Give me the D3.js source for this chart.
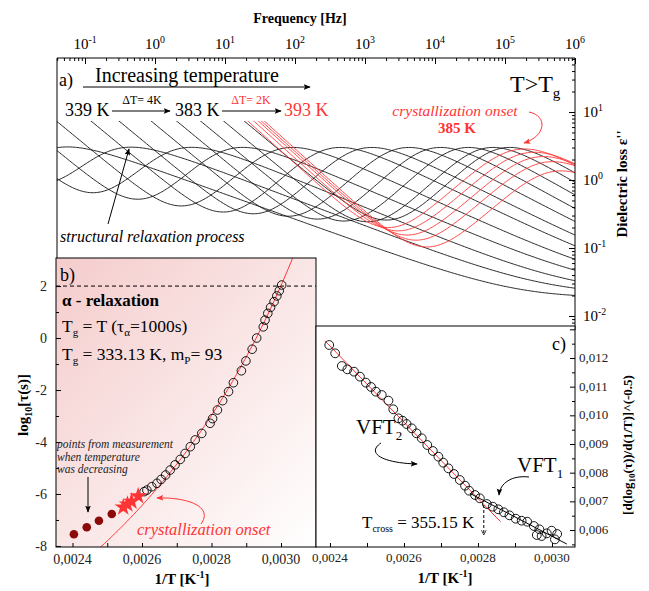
<!DOCTYPE html>
<html><head><meta charset="utf-8">
<script src="https://cdn.jsdelivr.net/npm/d3@7/dist/d3.min.js"></script>
<style>
body{margin:0;background:#fff;}
text, tspan{font-family:'Liberation Serif',serif !important;}
</style></head><body>
<svg id="chart" width="649" height="591"></svg>
<script>
// ---------- data ----------
// dielectric loss spectra: temperatures and per-spectrum parameters
const blackT        = [339,343,347,351,355,359,363,367,371,375,379,383];
const blackPeakLogF = [-1.23,-0.33,0.53,1.26,1.97,2.65,3.10,3.63,4.08,4.48,4.83,5.07];
const blackPeakLoss = [3.0,3.0,3.0,3.0,3.0,3.0,3.0,3.0,3.0,3.0,3.0,3.0];
const blackWing     = [0.37,0.39,0.42,0.44,0.47,0.50,0.52,0.55,0.58,0.60,0.62,0.62];
const blackDcLog    = [-2.24,-1.70,-1.21,-0.76,-0.33,0.09,0.43,0.82,1.13,1.42,1.70,1.95];
const redT          = [385,387,389,391,393];
const redPeakLogF   = [5.28,5.42,5.55,5.68,5.80];
const redPeakLoss   = [2.85,2.55,2.20,1.85,1.35];
const redWing       = [0.62,0.62,0.62,0.62,0.62];
const redDcLog      = [2.10,2.18,2.24,2.28,2.32];
const blackDcSlope = 0.85, redDcSlope = 0.93;
const betaPeakLogF = 7.3, betaPeakLoss = 0.015;
const freqTicks = [-1,0,1,2,3,4,5,6];
const lossTicks = [1,0,-1,-2];

// relaxation map (panel b)
const tauInvT = [0.003002,0.002995,0.002988,0.002980,0.002970,0.002962,0.002954,0.002949,0.002930,0.002917,0.002899,0.002886,0.002863,0.002849,0.002832,0.002817,0.002803,0.002796,0.002772,0.002753,0.002739,0.002724,0.002710,0.002695,0.002681,0.002668,0.002655,0.002643,0.002628,0.002614,0.002606];
const tauLog  = [2.04,1.82,1.62,1.40,1.18,0.95,0.69,0.43,0.00,-0.43,-0.88,-1.26,-1.72,-2.06,-2.41,-2.77,-3.10,-3.28,-3.67,-3.92,-4.18,-4.44,-4.67,-4.88,-5.08,-5.27,-5.44,-5.59,-5.72,-5.85,-5.91];
const starInvT = [0.002546,0.002558,0.002570,0.002589];
const starLog  = [-6.51,-6.40,-6.29,-6.08];
const coolInvT = [0.002404,0.002441,0.002476,0.002513];
const coolLog  = [-7.55,-7.28,-7.03,-6.77];
const vft = {A:-19.2, B:1641, T0:256};
const bYTicks = [-8,-6,-4,-2,0,2];
const bXTicks = [0.0024,0.0026,0.0028,0.0030];

// derivative analysis (panel c)
const derInvT = [0.002398,0.002414,0.002432,0.002447,0.002465,0.002481,0.002497,0.002511,0.002524,0.002540,0.002558,0.002571,0.002585,0.002596,0.002607,0.002621,0.002634,0.002648,0.002663,0.002678,0.002693,0.002706,0.002720,0.002735,0.002751,0.002765,0.002776,0.002792,0.002805,0.002824,0.002840,0.002855,0.002870,0.002885,0.002902,0.002918,0.002933,0.002951,0.002966,0.002959,0.002972,0.002986,0.002999,0.003014,0.003008];
const derVal  = [0.012453,0.012163,0.011721,0.011605,0.011523,0.011349,0.011140,0.010990,0.010826,0.010709,0.010512,0.010210,0.009896,0.009814,0.009698,0.009547,0.009373,0.009199,0.008965,0.008756,0.008558,0.008349,0.008152,0.007954,0.007745,0.007546,0.007372,0.007221,0.007106,0.006908,0.006814,0.006723,0.006618,0.006513,0.006395,0.006325,0.006290,0.006140,0.006025,0.005826,0.005791,0.005884,0.005977,0.005861,0.005675];
const vft2Line = {x:[0.002386,0.002861], y:[0.012603,0.006290]};
const vft1Line = {x:[0.002778,0.003040], y:[0.007281,0.005512]};
const cYTicks = [0.006,0.007,0.008,0.009,0.010,0.011,0.012];
const cXTicks = [0.0024,0.0026,0.0028,0.0030];
const Tcross = 355.15;

// ---------- layout ----------
const svg = d3.select('#chart');
const A = {l:57, r:575, t:58, b:330};
const B = {l:56, r:316, t:258, b:547};
const C = {l:316, r:575, t:326, b:547};
const RED = '#ff3535';
const fmt = v => d3.format('.4f')(v).replace('.', ',');
const fmt3 = v => d3.format('.3f')(v).replace('.', ',');

const defs = svg.append('defs');
function marker(id, color, size){
  defs.append('marker').attr('id', id).attr('viewBox','0 0 10 10').attr('refX',9).attr('refY',5)
    .attr('markerWidth', size).attr('markerHeight', size).attr('orient','auto')
    .append('path').attr('d','M0,1 L10,5 L0,9 L2,5 Z').attr('fill', color);
}
marker('arrK','#000',7); marker('arrR',RED,7);
defs.append('marker').attr('id','arrOpen').attr('viewBox','0 0 10 10').attr('refX',9).attr('refY',5)
  .attr('markerWidth',6).attr('markerHeight',6).attr('orient','auto')
  .append('path').attr('d','M1,1 L9,5 L1,9').attr('fill','none').attr('stroke','#000').attr('stroke-width',1.2);
const grad = defs.append('linearGradient').attr('id','pink').attr('x1',0).attr('y1',0).attr('x2',1).attr('y2',1);
grad.append('stop').attr('offset',0).attr('stop-color','#f5cccc');
grad.append('stop').attr('offset',1).attr('stop-color','#ffffff');
defs.append('clipPath').attr('id','clipA').append('rect').attr('x',A.l).attr('y',121).attr('width',A.r-A.l).attr('height',A.b-121);
defs.append('clipPath').attr('id','clipB').append('rect').attr('x',B.l).attr('y',B.t).attr('width',B.r-B.l).attr('height',B.b-B.t);
defs.append('clipPath').attr('id','clipC').append('rect').attr('x',C.l).attr('y',C.t).attr('width',C.r-C.l).attr('height',C.b-C.t);

function powLabel(g, x, y, base, exp, size, anchor){
  const t = g.append('text').attr('x',x).attr('y',y).attr('font-size',size).attr('text-anchor',anchor||'middle');
  t.append('tspan').text(base);
  t.append('tspan').attr('dy',-size*0.42).attr('font-size',size*0.66).text(exp);
  return t;
}

// ---------- panel a: loss spectra ----------
const xF = d3.scaleLog().domain([Math.pow(10,-1.4),1e6]).range([A.l,A.r]);
const yE = d3.scaleLog().domain([Math.pow(10,-2.206),Math.pow(10,1.794)]).range([A.b,A.t]);

function hnShape(w,a,b){
  const wa = Math.pow(w,a);
  const re = 1 + wa*Math.cos(a*Math.PI/2), im = wa*Math.sin(a*Math.PI/2);
  return Math.pow(Math.hypot(re,im),-b)*Math.sin(b*Math.atan2(im,re));
}
function peakLoss(logf, logPeak, height, a, ab){
  const b = ab/a;
  const wm = Math.pow(Math.sin(a*Math.PI/(2*(b+1)))/Math.sin(a*b*Math.PI/(2*(b+1))),1/a);
  const w = wm*Math.pow(10,logf-logPeak);
  return height*hnShape(w,a,b)/hnShape(wm,a,b);
}
function spectrum(logPeak, height, wing, dcLog, dcSlope, lfSlope){
  return d3.range(-1.46, 6.06, 0.02).map(lf => {
    const v = Math.pow(10, dcLog - dcSlope*lf)
      + peakLoss(lf, logPeak, height, lfSlope, wing)
      + peakLoss(lf, betaPeakLogF, betaPeakLoss, 0.35, 0.35);
    return [Math.pow(10,lf), v];
  });
}
const lineA = d3.line().x(d=>xF(d[0])).y(d=>yE(d[1]));
const gA = svg.append('g');
const gCurves = gA.append('g').attr('clip-path','url(#clipA)');
blackT.forEach((T,i)=>{
  gCurves.append('path').attr('d', lineA(spectrum(blackPeakLogF[i],blackPeakLoss[i],blackWing[i],blackDcLog[i],blackDcSlope,1.0)))
    .attr('fill','none').attr('stroke','#111').attr('stroke-width',0.9);
});
redT.forEach((T,i)=>{
  gCurves.append('path').attr('d', lineA(spectrum(redPeakLogF[i],redPeakLoss[i],redWing[i],redDcLog[i],redDcSlope,0.95)))
    .attr('fill','none').attr('stroke',RED).attr('stroke-width',0.9);
});
// frame a
gA.append('path').attr('d',`M${A.l},${A.b}V${A.t}H${A.r}V${A.b}`).attr('fill','none').attr('stroke','#000').attr('stroke-width',1);
// top frequency axis
const topAxis = d3.axisTop(xF).tickFormat('').tickSizeOuter(0)
  .tickValues(d3.range(-2,7).flatMap(k=>d3.range(1,10).map(m=>m*Math.pow(10,k))).filter(v=>v>=xF.domain()[0]&&v<=1e6));
const gTop = gA.append('g').attr('transform',`translate(0,${A.t})`).call(topAxis);
gTop.select('.domain').remove();
gTop.selectAll('.tick line').attr('y2', d => Math.abs(Math.log10(d)-Math.round(Math.log10(d)))<1e-6 ? 6 : 3).attr('stroke','#000');
freqTicks.forEach(k=>powLabel(gA, xF(Math.pow(10,k)), 49, '10', String(k), 15));
gA.append('text').attr('x',300).attr('y',23).attr('text-anchor','middle').attr('font-size',14).attr('font-weight','bold').text('Frequency [Hz]');
// right loss axis
const rightAxis = d3.axisRight(yE).tickFormat('').tickSizeOuter(0)
  .tickValues(d3.range(-3,2).flatMap(k=>d3.range(1,10).map(m=>m*Math.pow(10,k))).filter(v=>v>=yE.domain()[0]&&v<=yE.domain()[1]));
const gRight = gA.append('g').attr('transform',`translate(${A.r},0)`).call(rightAxis);
gRight.select('.domain').remove();
gRight.selectAll('.tick line').attr('x2', d => Math.abs(Math.log10(d)-Math.round(Math.log10(d)))<1e-6 ? -6 : -3).attr('stroke','#000');
lossTicks.forEach(k=>powLabel(gA, 583, yE(Math.pow(10,k))+5, '10', String(k), 15, 'start'));
gA.append('text').attr('transform','translate(627,184) rotate(-90)').attr('text-anchor','middle')
  .attr('font-size',15).attr('font-weight','bold').text('Dielectric loss ε\'\'');

// annotations a
gA.append('text').attr('x',59).attr('y',86).attr('font-size',18).text('a)');
gA.append('text').attr('x',95).attr('y',82).attr('font-size',20).text('Increasing temperature');
gA.append('line').attr('x1',83).attr('x2',310).attr('y1',87).attr('y2',87).attr('stroke','#000').attr('marker-end','url(#arrK)');
gA.append('text').attr('x',65).attr('y',116).attr('font-size',18).text('339 K');
gA.append('line').attr('x1',112).attr('x2',170).attr('y1',111).attr('y2',111).attr('stroke','#000').attr('marker-end','url(#arrK)');
gA.append('text').attr('x',142).attr('y',104).attr('font-size',12).attr('text-anchor','middle').text('ΔT= 4K');
gA.append('text').attr('x',175).attr('y',116).attr('font-size',18).text('383 K');
gA.append('line').attr('x1',222).attr('x2',281).attr('y1',111).attr('y2',111).attr('stroke','#000').attr('marker-end','url(#arrK)');
gA.append('text').attr('x',251).attr('y',104).attr('font-size',12).attr('text-anchor','middle').attr('fill',RED).text('ΔT= 2K');
gA.append('text').attr('x',284).attr('y',116).attr('font-size',18).attr('fill',RED).text('393 K');
const tg = gA.append('text').attr('x',510).attr('y',92).attr('font-size',24);
tg.append('tspan').text('T>T');
tg.append('tspan').attr('dy',6).attr('font-size',15).text('g');
gA.append('text').attr('x',455).attr('y',116).attr('text-anchor','middle').attr('font-size',15.5).attr('font-style','italic').attr('fill',RED).text('crystallization onset');
gA.append('text').attr('x',457).attr('y',133).attr('text-anchor','middle').attr('font-size',15).attr('font-weight','bold').attr('fill',RED).text('385 K');
gA.append('path').attr('d','M529,112 C548,116 546,136 524,143').attr('fill','none').attr('stroke',RED).attr('stroke-width',1).attr('marker-end','url(#arrR)');
gA.append('text').attr('x',60).attr('y',242).attr('font-size',16).attr('font-style','italic').text('structural relaxation process');
gA.append('line').attr('x1',108).attr('y1',224).attr('x2',129).attr('y2',149).attr('stroke','#000').attr('marker-end','url(#arrK)');

// ---------- panel b: relaxation map ----------
const xB = d3.scaleLinear().domain([0.0023525,0.0031007]).range([B.l,B.r]);
const yB = d3.scaleLinear().domain([-8.04,3.08]).range([B.b,B.t]);
const gB = svg.append('g');
gB.append('rect').attr('x',B.l).attr('y',B.t).attr('width',B.r-B.l).attr('height',B.b-B.t).attr('fill','url(#pink)');
gB.append('line').attr('x1',B.l).attr('x2',B.r).attr('y1',yB(2)).attr('y2',yB(2)).attr('stroke','#000').attr('stroke-dasharray','4,3');
const vftPts = d3.range(0.00240,0.003070,0.000004).map(v=>[v, vft.A + vft.B/(1/v - vft.T0)]);
gB.append('g').attr('clip-path','url(#clipB)').append('path')
  .attr('d', d3.line().x(d=>xB(d[0])).y(d=>yB(d[1]))(vftPts)).attr('fill','none').attr('stroke',RED).attr('stroke-width',1);
gB.selectAll('circle.tau').data(tauInvT).join('circle').attr('class','tau')
  .attr('cx',d=>xB(d)).attr('cy',(d,i)=>yB(tauLog[i])).attr('r',4.3).attr('fill','none').attr('stroke','#000').attr('stroke-width',0.9);
const star = d3.symbol().type(d3.symbolStar).size(95);
gB.selectAll('path.star').data(starInvT).join('path').attr('class','star')
  .attr('transform',(d,i)=>`translate(${xB(d)},${yB(starLog[i])})`).attr('d',star()).attr('fill',RED);
gB.selectAll('circle.cool').data(coolInvT).join('circle').attr('class','cool')
  .attr('cx',d=>xB(d)).attr('cy',(d,i)=>yB(coolLog[i])).attr('r',4.3).attr('fill','#8b0a0a');
gB.append('rect').attr('x',B.l).attr('y',B.t).attr('width',B.r-B.l).attr('height',B.b-B.t).attr('fill','none').attr('stroke','#000');
// axes b
const gBy = gB.append('g').attr('transform',`translate(${B.l},0)`)
  .call(d3.axisRight(yB).tickValues(d3.range(-8,3,1)).tickSize(4).tickFormat(''));
gBy.select('.domain').remove(); gBy.selectAll('.tick line').attr('x2',d=>d%2===0?5:3);
bYTicks.forEach(v=>gB.append('text').attr('x',47).attr('y',yB(v)+5).attr('text-anchor','end').attr('font-size',14).attr('fill','#222').text(v));
const gBx = gB.append('g').attr('transform',`translate(0,${B.b})`)
  .call(d3.axisTop(xB).tickValues(d3.range(0.0024,0.00305,0.0001)).tickSize(4).tickFormat(''));
gBx.select('.domain').remove();
bXTicks.forEach(v=>gB.append('text').attr('x',xB(v)).attr('y',564).attr('text-anchor','middle').attr('font-size',14).attr('fill','#222').text(fmt(v)));
const bxl = gB.append('text').attr('x',182).attr('y',584).attr('text-anchor','middle').attr('font-size',15).attr('font-weight','bold');
bxl.append('tspan').text('1/T [K');
bxl.append('tspan').attr('dy',-6).attr('font-size',10).text('-1');
bxl.append('tspan').attr('dy',6).text(']');
const byl = gB.append('text').attr('transform','translate(28,405) rotate(-90)').attr('text-anchor','middle').attr('font-size',15).attr('font-weight','bold');
byl.append('tspan').text('log');
byl.append('tspan').attr('dy',4).attr('font-size',10).text('10');
byl.append('tspan').attr('dy',-4).text('[τ(s)]');
// annotations b
gB.append('text').attr('x',60).attr('y',281).attr('font-size',18).text('b)');
gB.append('text').attr('x',62).attr('y',306).attr('font-size',17).attr('font-weight','bold').text('α - relaxation');
const t1 = gB.append('text').attr('x',62).attr('y',332).attr('font-size',17.5);
t1.append('tspan').text('T'); t1.append('tspan').attr('dy',4).attr('font-size',11).text('g');
t1.append('tspan').attr('dy',-4).text(' = T (τ'); t1.append('tspan').attr('dy',4).attr('font-size',11).text('α');
t1.append('tspan').attr('dy',-4).text('=1000s)');
const t2 = gB.append('text').attr('x',62).attr('y',360).attr('font-size',17.5);
t2.append('tspan').text('T'); t2.append('tspan').attr('dy',4).attr('font-size',11).text('g');
t2.append('tspan').attr('dy',-4).text(' = 333.13 K, m'); t2.append('tspan').attr('dy',4).attr('font-size',11).text('P');
t2.append('tspan').attr('dy',-4).text('= 93');
['points from measurement','when temperature','was decreasing'].forEach((s,i)=>
  gB.append('text').attr('x',57).attr('y',448+i*12.5).attr('font-size',11.5).attr('font-style','italic').attr('fill','#222').text(s));
gB.append('line').attr('x1',88).attr('y1',477).attr('x2',88).attr('y2',512).attr('stroke','#000').attr('marker-end','url(#arrK)');
gB.append('text').attr('x',137).attr('y',535).attr('font-size',16.5).attr('font-style','italic').attr('fill',RED).text('crystallization onset');
gB.append('path').attr('d','M201,524 C214,506 186,497 157,498').attr('fill','none').attr('stroke',RED).attr('marker-end','url(#arrR)');

// ---------- panel c: derivative analysis ----------
const xC = d3.scaleLinear().domain([0.0023622,0.0030622]).range([C.l,C.r]);
const yC = d3.scaleLinear().domain([0.005408,0.013116]).range([C.b,C.t]);
const gC = svg.append('g');
gC.append('rect').attr('x',C.l).attr('y',C.t).attr('width',C.r-C.l).attr('height',C.b-C.t).attr('fill','#fff');
const gCc = gC.append('g').attr('clip-path','url(#clipC)');
gCc.append('line').attr('x1',xC(vft2Line.x[0])).attr('y1',yC(vft2Line.y[0])).attr('x2',xC(vft2Line.x[1])).attr('y2',yC(vft2Line.y[1])).attr('stroke',RED);
gCc.append('line').attr('x1',xC(vft1Line.x[0])).attr('y1',yC(vft1Line.y[0])).attr('x2',xC(vft1Line.x[1])).attr('y2',yC(vft1Line.y[1])).attr('stroke','#000');
gCc.selectAll('circle').data(derInvT).join('circle').attr('cx',d=>xC(d)).attr('cy',(d,i)=>yC(derVal[i]))
  .attr('r',4.4).attr('fill','none').attr('stroke','#000').attr('stroke-width',0.9);
gC.append('rect').attr('x',C.l).attr('y',C.t).attr('width',C.r-C.l).attr('height',C.b-C.t).attr('fill','none').attr('stroke','#000');
const gCy = gC.append('g').attr('transform',`translate(${C.r},0)`)
  .call(d3.axisLeft(yC).tickValues(d3.range(0.0055,0.0131,0.0005)).tickSize(4).tickFormat(''));
gCy.select('.domain').remove(); gCy.selectAll('.tick line').attr('x2',(d,i)=>i%2===1?-5:-3);
cYTicks.forEach(v=>gC.append('text').attr('x',579).attr('y',yC(v)+4).attr('font-size',13).attr('fill','#222').text(fmt3(v)));
const gCx = gC.append('g').attr('transform',`translate(0,${C.b})`)
  .call(d3.axisTop(xC).tickValues(d3.range(0.0024,0.00305,0.0001)).tickSize(4).tickFormat(''));
gCx.select('.domain').remove();
cXTicks.forEach(v=>gC.append('text').attr('x',xC(v)).attr('y',562).attr('text-anchor','middle').attr('font-size',13).attr('fill','#222').text(fmt(v)));
const cxl = gC.append('text').attr('x',445).attr('y',583).attr('text-anchor','middle').attr('font-size',15).attr('font-weight','bold');
cxl.append('tspan').text('1/T [K'); cxl.append('tspan').attr('dy',-6).attr('font-size',10).text('-1'); cxl.append('tspan').attr('dy',6).text(']');
const cyl = gC.append('text').attr('transform','translate(632,445) rotate(-90)').attr('text-anchor','middle').attr('font-size',13).attr('font-weight','bold');
cyl.append('tspan').text('[d(log'); cyl.append('tspan').attr('dy',3).attr('font-size',9).text('10');
cyl.append('tspan').attr('dy',-3).text('(τ))/d(1/T)]^(-0.5)');
gC.append('text').attr('x',552).attr('y',350).attr('font-size',18).text('c)');
const v2 = gC.append('text').attr('x',356).attr('y',434).attr('font-size',21);
v2.append('tspan').text('VFT'); v2.append('tspan').attr('dy',6).attr('font-size',13).text('2');
gC.append('path').attr('d','M381,443 C366,453 382,463 417,464').attr('fill','none').attr('stroke','#000').attr('marker-end','url(#arrK)');
const v1 = gC.append('text').attr('x',517).attr('y',472).attr('font-size',21);
v1.append('tspan').text('VFT'); v1.append('tspan').attr('dy',6).attr('font-size',13).text('1');
gC.append('path').attr('d','M529,477 C512,475 500,483 499,495').attr('fill','none').attr('stroke','#000').attr('marker-end','url(#arrK)');
const tc = gC.append('text').attr('x',362).attr('y',528).attr('font-size',17);
tc.append('tspan').text('T'); tc.append('tspan').attr('dy',4).attr('font-size',10).text('cross');
tc.append('tspan').attr('dy',-4).text(' = ' + Tcross.toFixed(2) + ' K');
gC.append('line').attr('x1',xC(1/Tcross)).attr('x2',xC(1/Tcross)).attr('y1',505).attr('y2',535)
  .attr('stroke','#000').attr('stroke-dasharray','3,2').attr('marker-end','url(#arrOpen)');

// every label in the figure uses the Times-like serif face
svg.selectAll('text, tspan').attr('font-family', 'Liberation Serif').style('font-family', "'Liberation Serif'");
</script>
</body></html>
